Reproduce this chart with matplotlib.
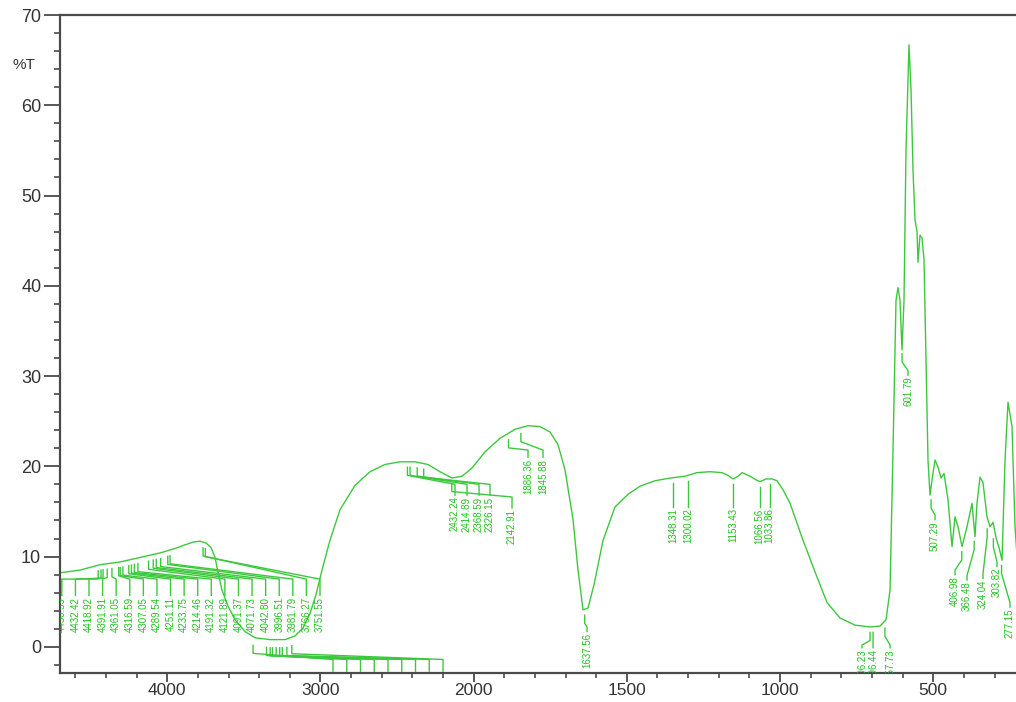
import numpy as np
import matplotlib.pyplot as plt
from matplotlib.ticker import FixedLocator

plt.rcParams['font.family'] = ['Liberation Sans', 'DejaVu Sans']

# ==========================
# SPECTRUM (cm-1, %T)
# ==========================

wn = np.array([
    4700, 4569, 4439, 4308, 4178, 4047, 3949, 3884, 3832, 3786, 3747, 3714,
    3688, 3669, 3643, 3603, 3558, 3492, 3427, 3329, 3231, 3166, 3114, 3068,
    3029, 2990, 2938, 2872, 2774, 2677, 2579, 2481, 2383, 2298, 2220, 2141,
    2076, 2011, 1963, 1914, 1865, 1822.6, 1783.4, 1750.8, 1724.7, 1701.8,
    1675.7, 1659.4, 1643, 1626.7, 1607.1, 1577.7, 1538.6, 1496.2, 1457, 1408,
    1359, 1310, 1271, 1228.6, 1189.5, 1169.9, 1153.4, 1137.1, 1124, 1098,
    1078.4, 1065.4, 1045.8, 1026.2, 1009.9, 990.3, 967.5, 925, 885.9, 846.7,
    804.3, 755.3, 706.4, 673.8, 654.2, 641.1, 631.4, 621.6, 615.1, 608.6,
    602.1, 595.5, 589, 579.2, 572.6, 566.1, 559.6, 553, 549.8, 543.3, 536.8,
    530.2, 523.7, 517.2, 510.6, 504.1, 494.3, 484.5, 474.7, 464.9, 451.9,
    438.8, 429, 419.2, 406.2, 389.9, 373.6, 363.8, 357.3, 347.5, 337.7,
    324.6, 314.8, 305, 295.2, 285.4, 275.6, 265.8, 256.1, 243, 233.2, 223.4,
])
T = np.array([
    8.2, 8.5, 9.1, 9.4, 9.9, 10.4, 10.9, 11.3, 11.6, 11.7, 11.5, 11.0,
    9.9, 8.3, 6.3, 4.5, 3.0, 1.7, 1.0, 0.8, 0.8, 1.2, 2.1, 3.7,
    5.8, 8.5, 11.8, 15.2, 17.9, 19.4, 20.2, 20.5, 20.5, 20.2, 19.4, 18.7,
    18.9, 19.8, 21.6, 23.1, 24.1, 24.5, 24.4, 23.8, 22.4, 19.6,
    14.1, 8.5, 4.1, 4.3, 6.9, 11.8, 15.5, 16.9, 17.8, 18.4,
    18.7, 18.9, 19.3, 19.4, 19.3, 19.0, 18.6, 18.9, 19.3, 18.9,
    18.5, 18.3, 18.6, 18.6, 18.4, 17.4, 15.9, 11.8, 8.3, 4.9,
    3.2, 2.4, 2.2, 2.3, 3.0, 6.3, 21.8, 38.4, 39.8, 38.4,
    32.9, 38.4, 55.0, 66.7, 61.7, 52.8, 47.3, 46.0, 42.6, 45.6, 45.3,
    42.9, 31.8, 20.7, 16.8, 18.5, 20.7, 19.9, 18.7, 19.2, 16.3,
    11.1, 14.4, 13.3, 11.1, 13.3, 15.9, 12.2, 15.9, 18.8, 18.2,
    14.4, 13.3, 13.8, 12.1, 11.0, 9.6, 20.7, 27.1, 24.4, 13.3, 8.5,
])

# ==========================
# PEAK PICKS
# ==========================

picks_left = [4450.59, 4432.42, 4418.92, 4391.91, 4361.05, 4316.59, 4307.05,
              4289.54, 4251.11, 4233.75, 4214.46, 4191.32, 4121.89, 4091.37,
              4071.73, 4042.80, 3996.51, 3981.79, 3766.27, 3751.55]
picks_oh = [3440, 3352, 3328, 3313, 3289, 3266, 3249, 3219, 3187]
picks_mid = [2432.24, 2414.89, 2368.59, 2326.15, 2142.91]
picks_top = [1886.36, 1845.88]
picks_water = [1637.56]
picks_plateau = [1348.31, 1300.02, 1153.43, 1066.56, 1033.86]
picks_low = [706.23, 696.44, 657.73]
picks_far = [601.79, 507.29, 406.98, 366.48, 324.04, 303.82, 277.15]

# label columns (cm-1), label top (%T) and leader drop for each group
lay_left = (np.linspace(4688, 3003, 20), [5.7] * 20, 1.8)
lay_oh = (np.linspace(2918, 2200, 9), [-2.7] * 9, 1.3)
lay_mid = ([2121.7, 2043.4, 1982.5, 1946.6, 1874.8], [16.8, 16.8, 16.8, 16.8, 15.4], 1.2)
lay_top = ([1822.6, 1773.6], [21.0, 21.0], 0.8)
lay_water = ([1630.0], [1.7], 0.5)
lay_plateau = (picks_plateau, [15.5] * 5, 0.5)
lay_low = ([732.5, 696.6, 641.1], [-0.1] * 3, 0.3)
lay_far = ([582.4, 494.3, 429.0, 389.9, 337.7, 292.0, 249.6],
           [30.1, 14.1, 8.0, 7.4, 7.6, 8.9, 4.4], 0.5)

line_green = '#3cc83c'
text_green = '#1fc21f'
axis_grey = '#4a4a4a'


# expanded scale below 2000 cm-1
def fwd(x):
    x = np.asarray(x, dtype=float)
    return np.where(x > 2000, 2000 + (x - 2000) / 2, x)


def inv(t):
    t = np.asarray(t, dtype=float)
    return np.where(t > 2000, 2000 + 2 * (t - 2000), t)


fig = plt.figure(figsize=(10.16, 7.02), dpi=100)
ax = fig.add_axes([60 / 1016, 29 / 702, 956 / 1016, 658 / 702])
ax.set_xscale('function', functions=(fwd, inv))
ax.set_xlim(4700, 230)
ax.set_ylim(-2.9, 70)

ax.plot(wn, T, color=line_green, lw=1.0)

wn_up, T_up = wn[::-1], T[::-1]


def curve_floor(v, half=6.0):
    xs = np.linspace(v - half, v + half, 25)
    return np.interp(xs, wn_up, T_up).min()


def draw_group(values, layout, gap=0.6, tick_len=0.9, labels=True):
    cols, tops, lead = layout
    for v, lx, lt in zip(values, cols, tops):
        top = curve_floor(v) - gap
        xs = [v, v, lx, lx]
        ys = [top, top - tick_len, lt + lead, lt]
        ax.plot(xs, ys, color=line_green, lw=1.0)
        if labels:
            ax.text(lx, lt - 0.15, f"{v:.2f}", rotation=90, ha='center', va='top',
                    fontsize=7, color=text_green, clip_on=True)


draw_group(picks_left, lay_left)
# labels of the broad O-H band fall below the frame
draw_group(picks_oh, lay_oh, gap=0.9, labels=False)
draw_group(picks_mid, lay_mid)
draw_group(picks_top, lay_top)
draw_group(picks_water, lay_water)
draw_group(picks_plateau, lay_plateau)
draw_group(picks_low, lay_low)
draw_group(picks_far, lay_far)

# ==========================
# AXES
# ==========================

ax.xaxis.set_major_locator(FixedLocator([4000, 3000, 2000, 1500, 1000, 500]))
minor_x = list(range(4600, 2000, -200)) + list(range(1900, 200, -100))
ax.xaxis.set_minor_locator(FixedLocator(minor_x))
ax.set_xticklabels(['4000', '3000', '2000', '1500', '1000', '500'])
ax.yaxis.set_major_locator(FixedLocator(range(0, 71, 10)))
ax.yaxis.set_minor_locator(FixedLocator(range(-2, 71, 2)))

for side in ['left', 'bottom', 'top']:
    ax.spines[side].set_color(axis_grey)
    ax.spines[side].set_linewidth(1.6)
ax.spines['right'].set_visible(False)

ax.tick_params(axis='y', which='major', length=11.5, width=1.3, color=axis_grey,
               labelsize=13, labelcolor='#333333', pad=2)
ax.tick_params(axis='y', which='minor', length=4.3, width=1.2, color=axis_grey)
ax.tick_params(axis='x', which='major', length=6.5, width=1.3, color=axis_grey,
               labelsize=12.5, labelcolor='#333333', pad=0.5)
ax.tick_params(axis='x', which='minor', length=3.6, width=1.2, color=axis_grey)

fig.text(24 / 1016, 1 - 65 / 702, '%T', fontsize=11, color='#333333',
         ha='center', va='center')

fig.savefig('out.png', dpi=100)
